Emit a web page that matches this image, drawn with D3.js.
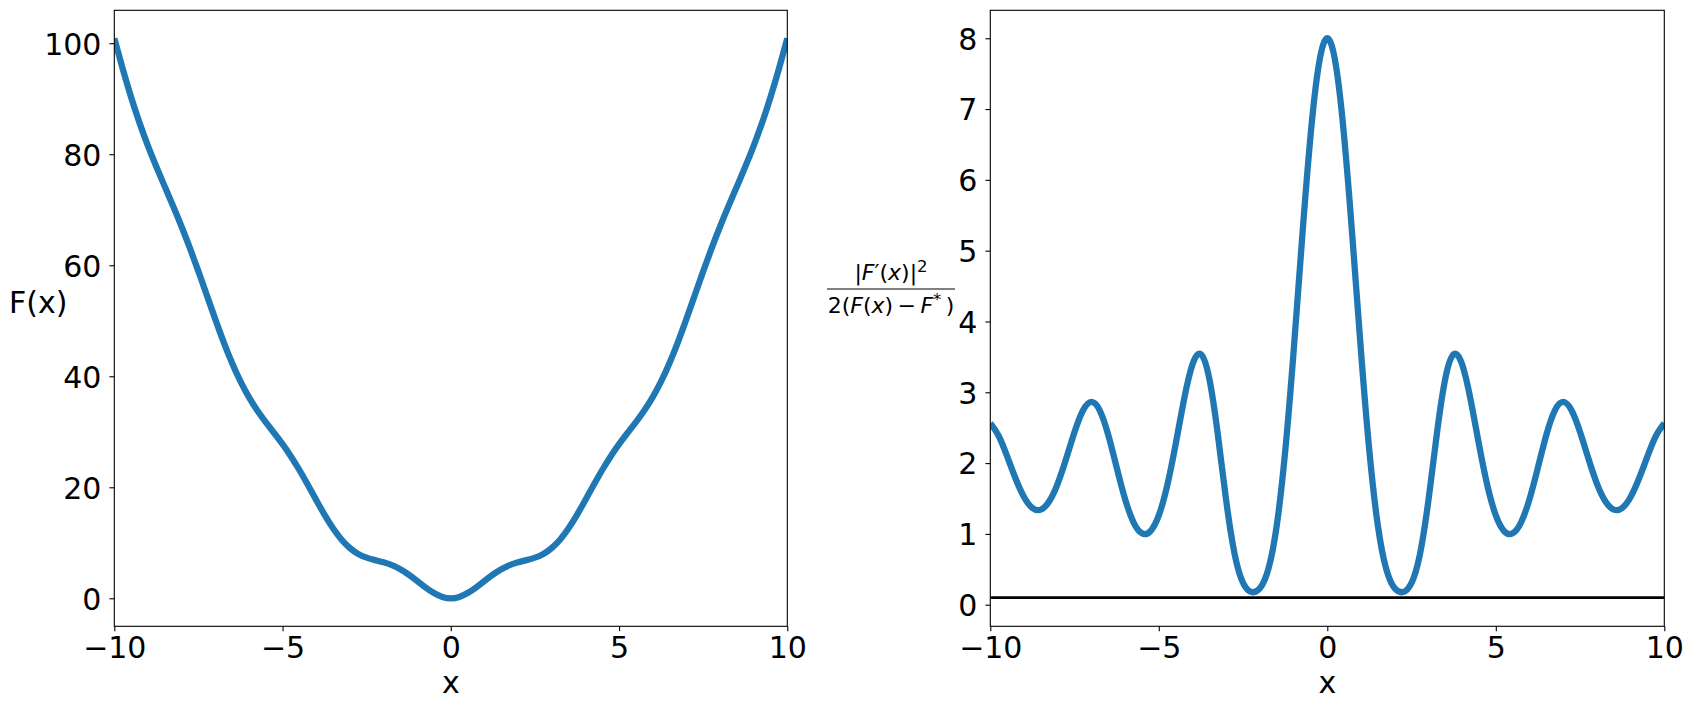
<!DOCTYPE html>
<html>
<head>
<meta charset="utf-8">
<script src="https://cdn.jsdelivr.net/npm/d3@7/dist/d3.min.js"></script>
<style>
  html, body { margin: 0; padding: 0; background: #fff; }
  svg { display: block; }
  text { font-family: "DejaVu Sans", sans-serif; fill: #000; }
</style>
</head>
<body>
<svg id="chart" width="1693" height="709"></svg>
<script>
// ---- data ----
const xValues = [-10,-9.75,-9.5,-9.25,-9,-8.75,-8.5,-8.25,-8,-7.75,-7.5,-7.25,-7,-6.75,-6.5,-6.25,-6,-5.75,-5.5,-5.25,-5,-4.75,-4.5,-4.25,-4,-3.75,-3.5,-3.25,-3,-2.75,-2.5,-2.25,-2,-1.75,-1.5,-1.25,-1,-0.75,-0.5,-0.25,0,0.25,0.5,0.75,1,1.25,1.5,1.75,2,2.25,2.5,2.75,3,3.25,3.5,3.75,4,4.25,4.5,4.75,5,5.25,5.5,5.75,6,6.25,6.5,6.75,7,7.25,7.5,7.75,8,8.25,8.5,8.75,9,9.25,9.5,9.75,10];

const fValues = [100.888,95.369,90.267,85.653,81.510,77.733,74.163,70.615,66.936,63.030,58.890,54.595,50.295,46.170,42.389,39.066,36.234,33.838,31.743,29.776,27.759,25.558,23.117,20.466,17.718,15.043,12.619,10.598,9.060,7.999,7.325,6.879,6.480,5.967,5.235,4.264,3.124,1.956,0.940,0.246,0,0.246,0.940,1.956,3.124,4.264,5.235,5.967,6.480,6.879,7.325,7.999,9.060,10.598,12.619,15.043,17.718,20.466,23.117,25.558,27.759,29.776,31.743,33.838,36.234,39.066,42.389,46.170,50.295,54.595,58.890,63.030,66.936,70.615,74.163,77.733,81.510,85.653,90.267,95.369,100.888];

const ratioValues = [2.563,2.382,2.095,1.782,1.521,1.366,1.343,1.461,1.711,2.061,2.440,2.743,2.864,2.742,2.399,1.937,1.490,1.164,1.008,1.038,1.261,1.683,2.266,2.900,3.395,3.536,3.189,2.409,1.470,0.716,0.308,0.179,0.231,0.502,1.119,2.163,3.577,5.158,6.610,7.632,8.000,7.632,6.610,5.158,3.577,2.163,1.119,0.502,0.231,0.179,0.308,0.716,1.470,2.409,3.189,3.536,3.395,2.900,2.266,1.683,1.261,1.038,1.008,1.164,1.490,1.937,2.399,2.742,2.864,2.743,2.440,2.061,1.711,1.461,1.343,1.366,1.521,1.782,2.095,2.382,2.563];

const thresholdValue = 0.1;

const xTicks = [-10, -5, 0, 5, 10];
const leftYTicks = [0, 20, 40, 60, 80, 100];
const rightYTicks = [0, 1, 2, 3, 4, 5, 6, 7, 8];

const xDomain = [-10, 10];
const leftYDomain = [-5.044, 105.932];
const rightYDomain = [-0.305, 8.395];

// ---- layout ----
const svg = d3.select("#chart");
const topY = 10.3, bottomY = 626.3;
const panels = [
  { x0: 114.3, x1: 787.3, yDomain: leftYDomain, yTicks: leftYTicks, values: fValues, id: "L" },
  { x0: 990.3, x1: 1664.3, yDomain: rightYDomain, yTicks: rightYTicks, values: ratioValues, id: "R" }
];
const BLUE = "#1f77b4";
const FS = 30;
const fmt = d => (d < 0 ? "\u2212" + Math.abs(d) : String(d));

const defs = svg.append("defs");

panels.forEach(p => {
  const x = d3.scaleLinear().domain(xDomain).range([p.x0, p.x1]);
  const y = d3.scaleLinear().domain(p.yDomain).range([bottomY, topY]);

  defs.append("clipPath").attr("id", "clip" + p.id)
    .append("rect").attr("x", p.x0).attr("y", topY)
    .attr("width", p.x1 - p.x0).attr("height", bottomY - topY);

  const g = svg.append("g");
  const plot = g.append("g").attr("clip-path", `url(#clip${p.id})`);

  if (p.id === "R") {
    plot.append("line")
      .attr("x1", x(xDomain[0])).attr("x2", x(xDomain[1]))
      .attr("y1", y(thresholdValue)).attr("y2", y(thresholdValue))
      .attr("stroke", "#000").attr("stroke-width", 2.8);
  }

  const line = d3.line()
    .x((d, i) => x(xValues[i]))
    .y(d => y(d))
    .curve(d3.curveNatural);
  plot.append("path")
    .datum(p.values)
    .attr("d", line)
    .attr("fill", "none")
    .attr("stroke", BLUE)
    .attr("stroke-width", 6.3)
    .attr("stroke-linejoin", "round");

  // axes
  const xAxis = d3.axisBottom(x).tickValues(xTicks).tickFormat(fmt)
    .tickSizeInner(4.86).tickSizeOuter(0).tickPadding(6);
  const yAxis = d3.axisLeft(y).tickValues(p.yTicks).tickFormat(fmt)
    .tickSizeInner(4.86).tickSizeOuter(0).tickPadding(8);

  const gx = g.append("g").attr("transform", `translate(0,${bottomY})`).call(xAxis);
  const gy = g.append("g").attr("transform", `translate(${p.x0},0)`).call(yAxis);
  [gx, gy].forEach(a => {
    a.select(".domain").remove();
    a.selectAll(".tick line").attr("stroke", "#000").attr("stroke-width", 1.1);
    a.selectAll(".tick text").attr("font-size", FS).attr("font-family", "DejaVu Sans").attr("fill", "#000");
  });
  gy.selectAll(".tick text").attr("dy", "0.36em");

  // frame (spines)
  g.append("rect")
    .attr("x", p.x0).attr("y", topY)
    .attr("width", p.x1 - p.x0).attr("height", bottomY - topY)
    .attr("fill", "none").attr("stroke", "#000").attr("stroke-width", 1.1);

  // x label
  g.append("text")
    .attr("x", (p.x0 + p.x1) / 2).attr("y", 693)
    .attr("text-anchor", "middle").attr("font-size", FS)
    .text("x");
});

// left y label
svg.append("text").attr("x", 9).attr("y", 313)
  .attr("font-size", FS).text("F(x)");

// right y label (fraction)
const cx = 891;
const FS2 = 22;
const num = svg.append("text").attr("x", cx).attr("y", 280)
  .attr("text-anchor", "middle").attr("font-size", FS2);
num.append("tspan").text("|");
num.append("tspan").attr("font-style", "italic").text("F");
num.append("tspan").text("\u2032(");
num.append("tspan").attr("font-style", "italic").text("x");
num.append("tspan").text(")|");
num.append("tspan").attr("font-size", FS2 * 0.75).attr("dy", -8).text("2");

svg.append("line").attr("x1", 827).attr("x2", 955)
  .attr("y1", 289).attr("y2", 289)
  .attr("stroke", "#000").attr("stroke-width", 1);

const den = svg.append("text").attr("x", cx).attr("y", 313)
  .attr("text-anchor", "middle").attr("font-size", FS2);
den.append("tspan").text("2(");
den.append("tspan").attr("font-style", "italic").text("F");
den.append("tspan").text("(");
den.append("tspan").attr("font-style", "italic").text("x");
den.append("tspan").text(")\u2009\u2212\u2009");
den.append("tspan").attr("font-style", "italic").text("F");
den.append("tspan").attr("font-size", FS2 * 0.75).attr("dy", -8).text("*");
den.append("tspan").attr("dy", 8).text("\u2009)");
</script>
</body>
</html>
